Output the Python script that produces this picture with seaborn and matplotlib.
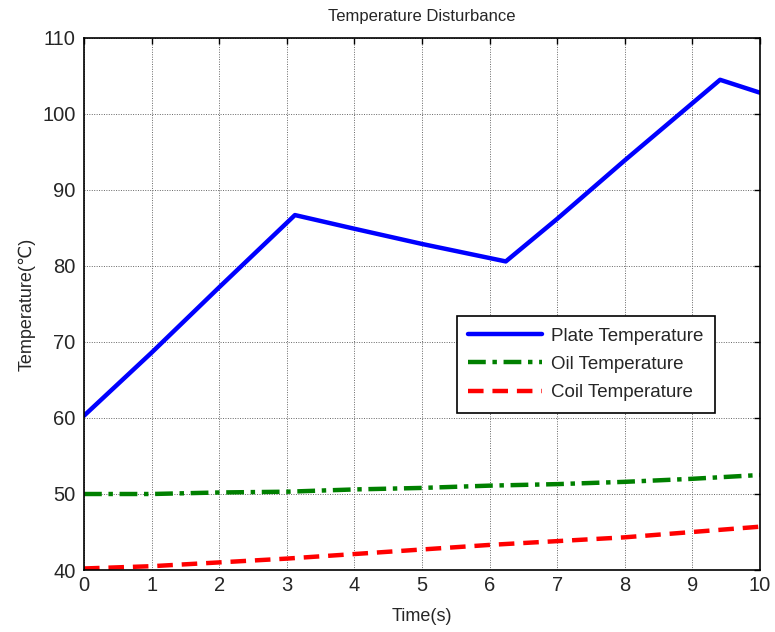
import matplotlib
matplotlib.use("Agg")
import matplotlib.pyplot as plt
import seaborn as sns
import pandas as pd

# Sampled temperatures (°C) against time (s)
plate_time = [0, 1, 2, 3.12, 4, 5, 6.24, 7, 8, 9.41, 10]
plate_temp = [60.3, 68.6, 77.2, 86.7, 84.9, 82.9, 80.6, 86.2, 93.9, 104.5, 102.8]

oil_time = [0, 1, 2, 3, 4, 5, 6, 7, 8, 9, 10]
oil_temp = [50.0, 50.0, 50.2, 50.3, 50.6, 50.8, 51.1, 51.3, 51.6, 52.0, 52.5]

coil_time = [0, 1, 2, 3, 4, 5, 6, 7, 8, 9, 10]
coil_temp = [40.2, 40.5, 41.0, 41.5, 42.1, 42.7, 43.3, 43.8, 44.3, 45.0, 45.7]

x_ticks = [0, 1, 2, 3, 4, 5, 6, 7, 8, 9, 10]
y_ticks = [40, 50, 60, 70, 80, 90, 100, 110]

sns.set_theme(style="white")
plt.rcParams["font.family"] = ["Liberation Sans", "DejaVu Sans"]

fig = plt.figure(figsize=(7.75, 6.32), dpi=100)
ax = fig.add_axes([0.1084, 0.0981, 0.8722, 0.8418])

plate = pd.DataFrame({"t": plate_time, "v": plate_temp})
oil = pd.DataFrame({"t": oil_time, "v": oil_temp})
coil = pd.DataFrame({"t": coil_time, "v": coil_temp})

sns.lineplot(data=plate, x="t", y="v", ax=ax, color="#0000ff", lw=3.2,
             label="Plate Temperature")
sns.lineplot(data=oil, x="t", y="v", ax=ax, color="#008000", lw=3.2,
             label="Oil Temperature")
sns.lineplot(data=coil, x="t", y="v", ax=ax, color="#ff0000", lw=3.2,
             label="Coil Temperature")
ax.lines[1].set_linestyle((0, (4, 1.5, 1, 1.5)))
ax.lines[2].set_linestyle((0, (3.5, 2)))

ax.set_xlim(0, 10)
ax.set_ylim(40, 110)
ax.set_xticks(x_ticks)
ax.set_yticks(y_ticks)
ax.tick_params(direction="in", length=4, width=1, labelsize=14.5, color="black",
               top=True, right=True)
ax.tick_params(axis="y", pad=6)
ax.tick_params(axis="x", pad=4)
ax.grid(True, linestyle=(0, (1, 1.5)), color="#666666", linewidth=0.7)
for s in ax.spines.values():
    s.set_visible(True)
    s.set_color("black")
    s.set_linewidth(1.2)

ax.set_title("Temperature Disturbance", fontsize=12, pad=12)
ax.set_xlabel("Time(s)", fontsize=13, labelpad=10)
ax.set_ylabel("Temperature(℃)", fontsize=13, labelpad=5)

leg = ax.legend(loc="upper left", bbox_to_anchor=(0.552, 0.477), fontsize=13.5,
                frameon=True, fancybox=False, framealpha=1, edgecolor="black",
                handlelength=3.9, handletextpad=0.5, borderpad=0.6,
                labelspacing=0.6, borderaxespad=0)
leg.get_frame().set_linewidth(1.2)

fig.savefig("out.png", dpi=100)
